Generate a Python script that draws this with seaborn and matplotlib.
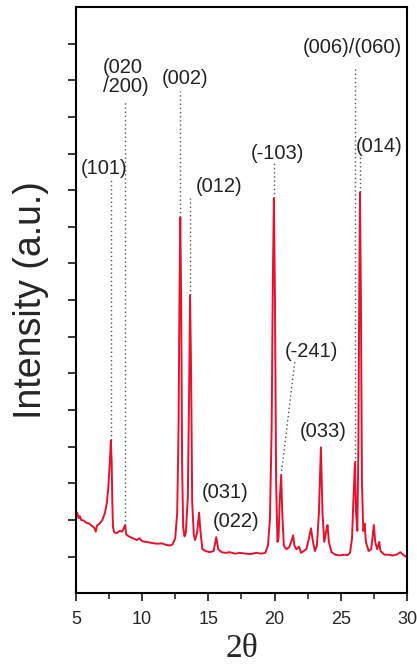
import pandas as pd
import seaborn as sns
import matplotlib.pyplot as plt

# XRD pattern (2theta, intensity in axis units)
two_theta = [5.0, 5.1, 5.2, 5.3, 5.4, 5.6, 5.8, 6.0, 6.2, 6.4, 6.5, 6.6, 6.8, 7.0, 7.2, 7.35, 7.45, 7.55,
             7.64, 7.7, 7.75, 7.8, 7.9, 8.1, 8.3, 8.5, 8.65, 8.72, 8.8, 9.0, 9.3, 9.6, 9.8, 10.0,
             10.3, 10.6, 10.9, 11.2, 11.5, 11.8, 12.1, 12.3, 12.5, 12.65, 12.75, 12.82, 12.88,
             12.95, 13.02, 13.1, 13.2, 13.3, 13.45, 13.55, 13.62, 13.7, 13.78, 13.9, 14.0, 14.15,
             14.3, 14.4, 14.55, 14.8, 15.1, 15.4, 15.6, 15.75, 16.0, 16.3, 16.6, 17.0, 17.4,
             17.8, 18.2, 18.6, 19.0, 19.3, 19.5, 19.65, 19.78, 19.87, 19.95, 20.03, 20.12, 20.22,
             20.3, 20.4, 20.5, 20.58, 20.7, 20.9, 21.1, 21.3, 21.4, 21.5, 21.65, 21.85, 22.0,
             22.2, 22.4, 22.6, 22.75, 22.9, 23.05, 23.2, 23.35, 23.5, 23.62, 23.75, 23.9, 24.0,
             24.1, 24.3, 24.6, 24.9, 25.2, 25.5, 25.7, 25.85, 25.95, 26.07, 26.15, 26.25, 26.33,
             26.4, 26.45, 26.52, 26.6, 26.7, 26.8, 26.9, 27.1, 27.3, 27.5, 27.6, 27.75, 27.9,
             28.0, 28.3, 28.6, 28.9, 29.2, 29.5, 29.7, 30.0]
intensity = [2.13, 2.2, 2.05, 2.1, 2.0, 1.98, 1.92, 1.9, 1.84, 1.78, 1.68, 1.85, 1.9, 2.0, 2.2, 2.5, 2.9, 3.5,
             4.17, 3.6, 2.5, 1.8, 1.66, 1.64, 1.7, 1.68, 1.8, 1.86, 1.6, 1.55, 1.5, 1.45, 1.5, 1.42,
             1.4, 1.38, 1.36, 1.35, 1.36, 1.32, 1.3, 1.33, 1.5, 2.2, 4.5, 8.0, 10.26,
             8.0, 3.5, 1.8, 1.55, 1.65, 2.6, 5.5, 8.13, 6.0, 2.5, 1.6, 1.45, 1.65,
             2.2, 1.7, 1.2, 1.15, 1.12, 1.15, 1.53, 1.2, 1.12, 1.1, 1.12, 1.08, 1.1,
             1.08, 1.07, 1.1, 1.08, 1.1, 1.3, 2.0, 4.5, 8.5, 10.78, 8.0, 3.0, 1.4,
             1.5, 2.6, 3.22, 2.2, 1.3, 1.2, 1.25, 1.45, 1.58, 1.3, 1.2, 1.27, 1.1,
             1.15, 1.2, 1.5, 1.77, 1.4, 1.15, 1.3, 2.2, 3.98, 2.2, 1.4, 1.7, 1.86,
             1.4, 1.12, 1.05, 1.03, 1.05, 1.04, 1.1, 1.5, 2.5, 3.57, 2.2, 1.7, 4.0,
             8.5, 10.94, 8.0, 3.0, 1.7, 1.9, 1.4, 1.15, 1.2, 1.86, 1.4, 1.2, 1.4,
             1.15, 1.05, 1.05, 1.03, 1.05, 1.12, 1.05, 0.98]

# peak labels: text, label x, label y
labels = ['(101)', '(020\n/200)', '(002)', '(012)', '(-103)', '(-241)', '(033)',
          '(031)', '(022)', '(006)/(060)', '(014)']
label_x = [7.1, 8.75, 13.25, 15.8, 20.2, 22.8, 23.65, 16.25, 17.1, 25.9, 27.9]
label_y = [11.6, 14.1, 14.05, 11.1, 12.0, 6.6, 4.4, 2.75, 1.95, 14.9, 12.2]

# dotted guide lines from peak to label
guide_x0 = [7.64, 8.72, 12.88, 13.62, 19.95, 20.5, 26.07, 26.45]
guide_y0 = [4.17, 1.86, 10.26, 8.13, 10.78, 3.22, 3.57, 10.94]
guide_x1 = [7.64, 8.72, 12.88, 13.62, 19.95, 21.54, 26.07, 26.45]
guide_y1 = [11.27, 13.45, 13.72, 10.8, 11.81, 6.36, 14.35, 11.9]

xrd = pd.DataFrame({'2theta': two_theta, 'Intensity': intensity})

sns.set_style('ticks')
plt.rcParams['font.family'] = ['Liberation Sans', 'DejaVu Sans']

fig = plt.figure(figsize=(4.17, 6.68), dpi=100)
ax = fig.add_axes([0.182, 0.112, 0.794, 0.8775])

for x0, y0, x1, y1 in zip(guide_x0, guide_y0, guide_x1, guide_y1):
    ax.plot([x0, x1], [y0, y1], color='#555555', linestyle=(0, (1, 2)), linewidth=1.0, zorder=1)

sns.lineplot(data=xrd, x='2theta', y='Intensity', color='#e8112d', linewidth=1.4, ax=ax, zorder=2)

for t, x, y in zip(labels, label_x, label_y):
    ax.text(x, y, t, ha='center', va='center', fontsize=14.5, color='#222222',
            linespacing=1.0, multialignment='left')

ax.set_xlim(5, 30)
ax.set_ylim(0, 16)
ax.set_xticks([5, 10, 15, 20, 25, 30])
ax.set_xticks([7.5, 12.5, 17.5, 22.5, 27.5], minor=True)
ax.set_yticks(range(1, 16))
ax.set_yticklabels([])
ax.tick_params(axis='x', which='major', direction='out', length=6, width=1.3, labelsize=13, pad=7)
ax.tick_params(axis='x', which='minor', direction='out', length=4, width=1.2)
ax.tick_params(axis='y', direction='out', length=6, width=1.3)
for s in ax.spines.values():
    s.set_linewidth(1.5)
    s.set_color('black')

ax.set_ylabel('Intensity (a.u.)', fontsize=27, labelpad=10)
ax.set_xlabel('2θ', fontsize=24, family=['Liberation Serif', 'DejaVu Serif'], labelpad=4)

fig.savefig('out.png', dpi=100)
